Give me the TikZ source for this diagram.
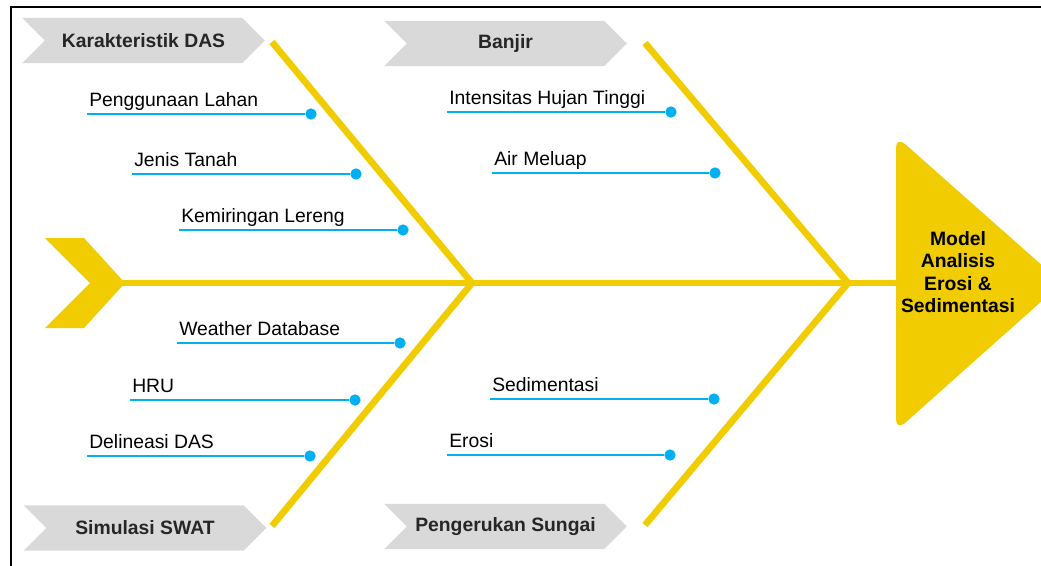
\documentclass[tikz,border=0pt]{standalone}
\usepackage{fontspec}
\setmainfont{Liberation Sans}
\usetikzlibrary{positioning,shapes.symbols}

\definecolor{boneyellow}{RGB}{240,204,0}
\definecolor{causeblue}{RGB}{0,176,240}
\definecolor{tabgray}{RGB}{217,217,217}

\begin{document}
\begin{tikzpicture}[
  x=0.75pt, y=-0.75pt,
  bone/.style={draw=boneyellow, line width=5pt},
  tab/.style={signal, signal to=east, signal from=west, fill=tabgray,
              minimum width=182pt, minimum height=34pt, inner sep=0pt,
              font=\fontsize{14.5}{17}\selectfont\bfseries, text=black!85},
  cause/.style={anchor=south west, inner xsep=1.5pt, inner ysep=5.25pt,
                text depth=0pt, font=\fontsize{14.5}{17}\selectfont},
  dot/.style={circle, fill=causeblue, inner sep=0pt, minimum size=8.5pt},
  link/.style={draw=causeblue, line width=2.2pt}
]
  \useasboundingbox (0,0) rectangle (1041,565);
  \clip (0,0) rectangle (1041,565);
  \draw[line width=1.5pt] (11,7) rectangle (1070,600);

  % head and tail
  \fill[boneyellow, rounded corners=9pt] (896,136) -- (1062,283) -- (896,431) -- cycle;
  \node[align=center, font=\fontsize{14.5}{16.7}\selectfont\bfseries] (model) at (958,272)
    {Model\\Analisis\\Erosi \&\\Sedimentasi};
  \fill[boneyellow] (45,238) -- (84,238) -- (125,283) -- (84,328) -- (45,328) -- (90,283) -- cycle;
  \coordinate (tail) at (120,283);
  \coordinate (head) at (900,283);

  % bones
  \coordinate (jointL) at (472,283);
  \coordinate (jointR) at (848,283);
  \coordinate (boneDas) at (272,42);
  \coordinate (boneSwat) at (272,526);
  \coordinate (boneBanjir) at (645,43);
  \coordinate (boneSungai) at (645,525);
  \draw[bone] (tail) -- (head);
  \draw[bone] (boneDas) -- (jointL) -- (boneSwat);
  \draw[bone] (boneBanjir) -- (jointR) -- (boneSungai);

  % categories
  \node[tab] (tabDas) at (143.5,40.5) {Karakteristik DAS};
  \node[tab] (tabBanjir) at (505.5,43.5) {Banjir};
  \node[tab] (tabSwat) at (145,528) {Simulasi SWAT};
  \node[tab] (tabSungai) at (505.5,526.5) {Pengerukan Sungai};

  % causes
  \node[cause] (lahan) at (87,114) {Penggunaan Lahan};
  \node[dot] (lahanDot) at (311,114) {};
  \node[cause] (tanah) at (132,174) {Jenis Tanah};
  \node[dot] (tanahDot) at (356,174) {};
  \node[cause] (lereng) at (179,230) {Kemiringan Lereng};
  \node[dot] (lerengDot) at (403,230) {};
  \node[cause] (weather) at (177,343) {Weather Database};
  \node[dot] (weatherDot) at (400,343) {};
  \node[cause] (hru) at (130,400) {HRU};
  \node[dot] (hruDot) at (355,400) {};
  \node[cause] (delineasi) at (87,456) {Delineasi DAS};
  \node[dot] (delineasiDot) at (310,456) {};
  \node[cause] (hujan) at (447,112) {Intensitas Hujan Tinggi};
  \node[dot] (hujanDot) at (671,112) {};
  \node[cause] (meluap) at (492,173) {Air Meluap};
  \node[dot] (meluapDot) at (715,173) {};
  \node[cause] (sedimen) at (490,399) {Sedimentasi};
  \node[dot] (sedimenDot) at (714,399) {};
  \node[cause] (erosi) at (447,455) {Erosi};
  \node[dot] (erosiDot) at (670,455) {};

  \draw[link] (lahan.south west) -- (lahanDot);
  \draw[link] (tanah.south west) -- (tanahDot);
  \draw[link] (lereng.south west) -- (lerengDot);
  \draw[link] (weather.south west) -- (weatherDot);
  \draw[link] (hru.south west) -- (hruDot);
  \draw[link] (delineasi.south west) -- (delineasiDot);
  \draw[link] (hujan.south west) -- (hujanDot);
  \draw[link] (meluap.south west) -- (meluapDot);
  \draw[link] (sedimen.south west) -- (sedimenDot);
  \draw[link] (erosi.south west) -- (erosiDot);
\end{tikzpicture}
\end{document}
